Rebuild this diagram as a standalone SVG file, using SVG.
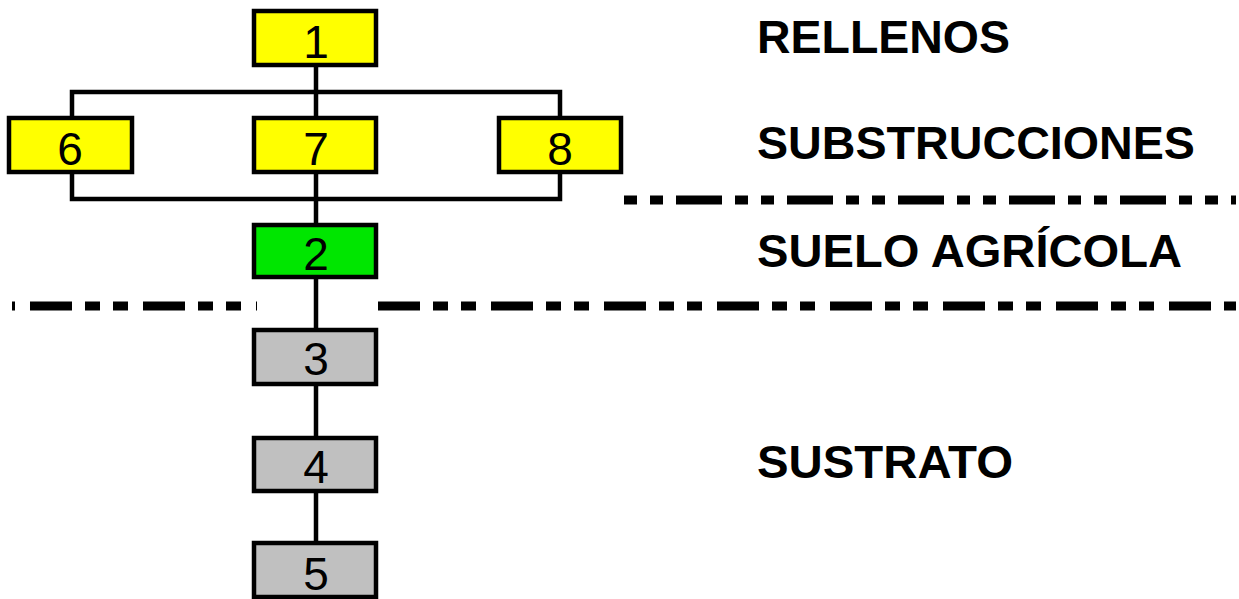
<svg xmlns="http://www.w3.org/2000/svg" width="1239" height="599" viewBox="0 0 1239 599">
<style>
.box{stroke:#000;stroke-width:4.5}
.y{fill:#ffff00}
.g{fill:#00e600}
.s{fill:#c0c0c0}
.num{font-family:"Liberation Sans",Arial,sans-serif;font-size:46px;text-anchor:middle;fill:#000}
.lab{font-family:"Liberation Sans",Arial,sans-serif;font-size:46px;font-weight:bold;fill:#000}
.con{stroke:#000;stroke-width:4.5;fill:none}
.dash{stroke:#000;stroke-width:9;fill:none}
</style>
<rect width="1239" height="599" fill="#fff"/>
<g id="connectors">
<line class="con" x1="316" y1="65" x2="316" y2="545"/>
<polyline class="con" points="72,118 72,92 560,92 560,118"/>
<polyline class="con" points="72,172 72,199 560,199 560,172"/>
</g>
<g id="separators">
<line class="dash" x1="624" y1="200" x2="1236" y2="200" stroke-dasharray="13 13 13 13 46 13"/>
<line class="dash" x1="12" y1="306" x2="257" y2="306" stroke-dasharray="3 15 42 13 15 13 15 15 42 13 15 13 15 15 2 200"/>
<line class="dash" x1="378" y1="306" x2="1236" y2="306" stroke-dasharray="42 13 15 13 15 15"/>
</g>
<g id="n1"><rect class="box y" x="254" y="11" width="122" height="54"/><text class="num" x="316" y="58">1</text></g>
<g id="n6"><rect class="box y" x="9" y="118" width="123" height="54"/><text class="num" x="70" y="165">6</text></g>
<g id="n7"><rect class="box y" x="254" y="118" width="122" height="54"/><text class="num" x="316" y="165">7</text></g>
<g id="n8"><rect class="box y" x="499" y="118" width="122" height="54"/><text class="num" x="560" y="165">8</text></g>
<g id="n2"><rect class="box g" x="254" y="225" width="122" height="52"/><text class="num" x="316" y="270">2</text></g>
<g id="n3"><rect class="box s" x="254" y="330" width="122" height="54"/><text class="num" x="316" y="375">3</text></g>
<g id="n4"><rect class="box s" x="254" y="438" width="122" height="53"/><text class="num" x="316" y="483">4</text></g>
<g id="n5"><rect class="box s" x="254" y="543" width="122" height="54"/><text class="num" x="316" y="590">5</text></g>
<g id="labels">
<text class="lab" x="757" y="53" textLength="253" lengthAdjust="spacingAndGlyphs">RELLENOS</text>
<text class="lab" x="757" y="159" textLength="438" lengthAdjust="spacingAndGlyphs">SUBSTRUCCIONES</text>
<text class="lab" x="757" y="267" textLength="425" lengthAdjust="spacingAndGlyphs">SUELO AGRÍCOLA</text>
<text class="lab" x="757" y="478" textLength="256" lengthAdjust="spacingAndGlyphs">SUSTRATO</text>
</g>
</svg>
